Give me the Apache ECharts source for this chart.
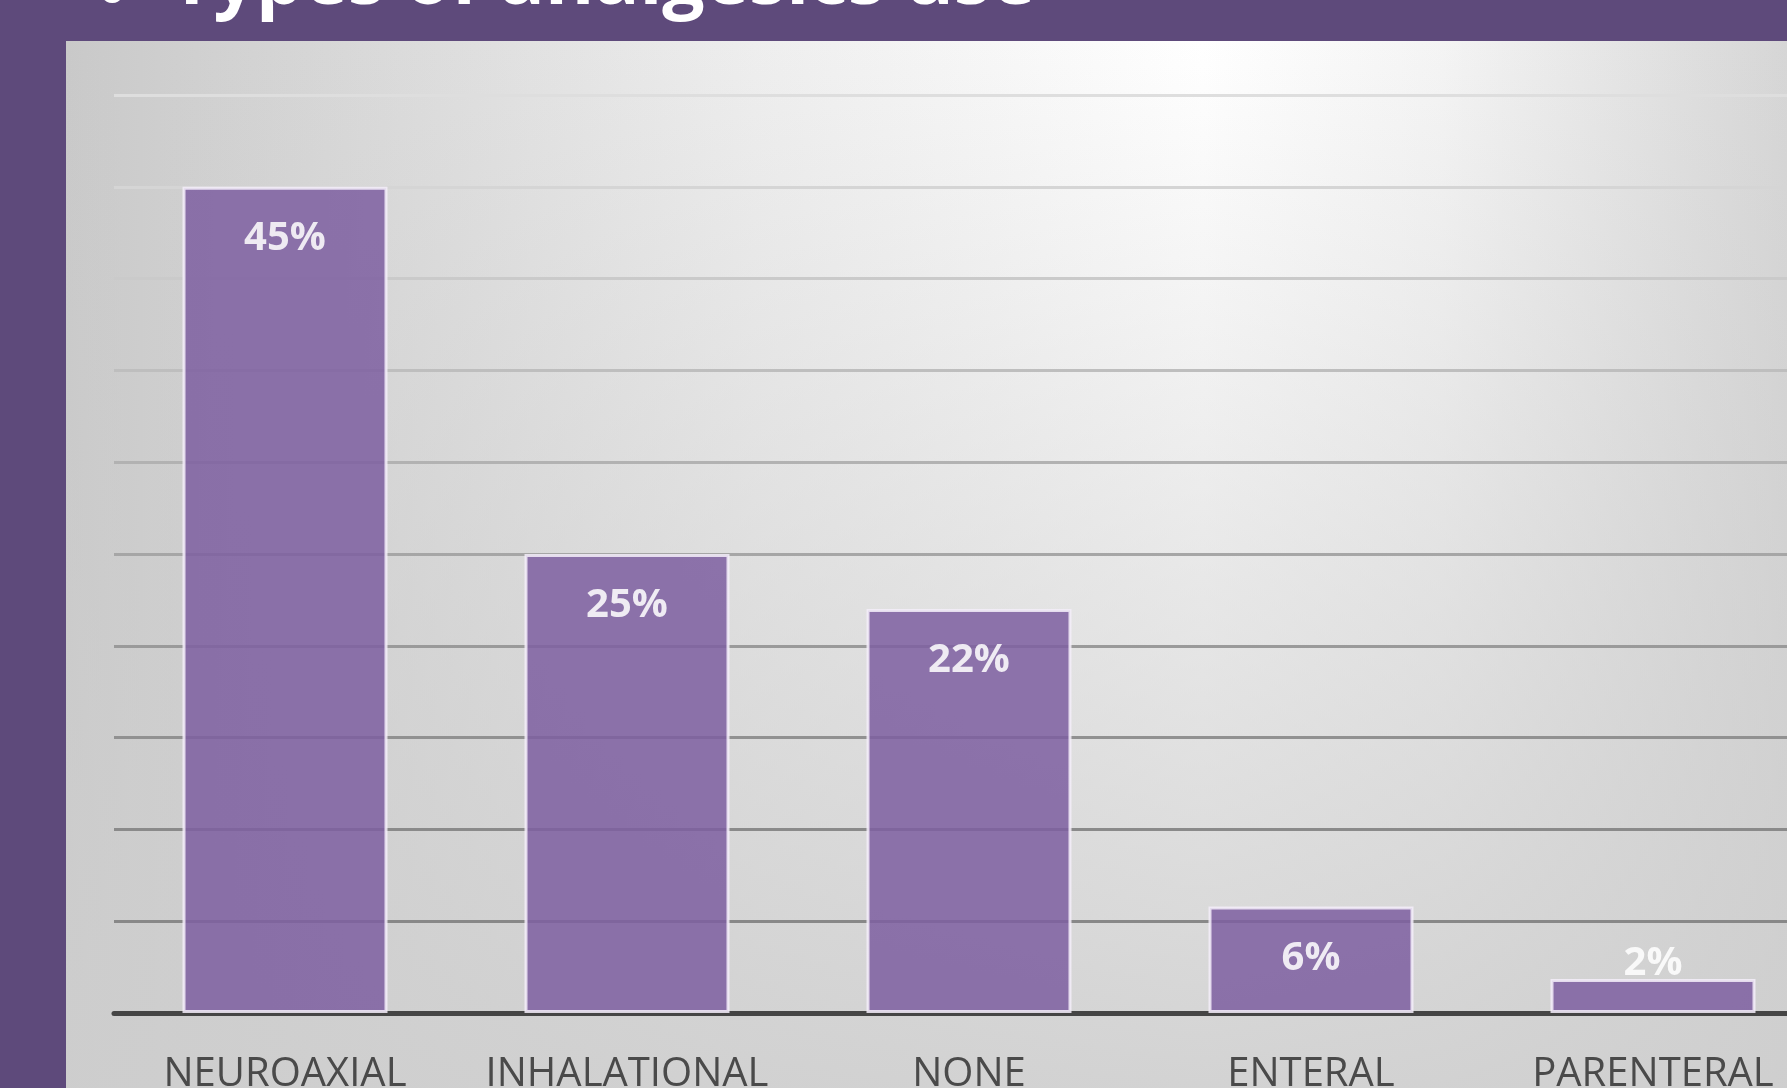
<!DOCTYPE html>
<html>
<head>
<meta charset="utf-8">
<script src="https://cdn.jsdelivr.net/npm/echarts@6/dist/echarts.min.js"></script>
<style>
  html, body { margin: 0; padding: 0; width: 1787px; height: 1088px; overflow: hidden; background: #5e4a7b; }
  #panel {
    position: absolute; left: 66px; top: 41px; right: 0; bottom: 0;
    background:
      linear-gradient(to bottom, rgba(205,205,205,0) 0%, rgba(205,205,205,0.45) 50%, rgba(206,206,206,0.9) 100%),
      linear-gradient(to right, #c9c9c9 0%, #eeeeee 40%, #ffffff 66%, #f4f4f4 80%, #d6d6d6 100%);
  }
  #chart { position: absolute; left: 0; top: 0; width: 1787px; height: 1088px; }
</style>
</head>
<body>
<div id="panel"></div>
<div id="chart"></div>
<script>
var categories = ['NEUROAXIAL', 'INHALATIONAL', 'NONE', 'ENTERAL', 'PARENTERAL'];
var values = [45, 25, 22, 5.8, 1.85];
var valueLabels = ['45%', '25%', '22%', '6%', '2%'];
var gridColors = ['#555555', '#888888', '#8a8a8a', '#919191', '#9a9a9a', '#a6a6a6',
                  '#b2b2b2', '#bebebe', '#cacaca', '#d5d5d5', '#dedede'];

var seriesdata = [];
for (var i = 0; i < values.length; i++) {
    var item = { value: values[i] };
    if (values[i] < 4) {
        // short bar: label sits on top of it
        item.label = { position: 'top', distance: -5 };
    }
    seriesdata.push(item);
}

var myChart = echarts.init(document.getElementById('chart'));
var option = {
    backgroundColor: 'transparent',
    animation: false,
    graphic: [
        {
            type: 'text', left: 98, top: -41,
            style: { text: '•', fill: '#ffffff', font: 'bold 76px "Open Sans"' }
        },
        {
            type: 'text', left: 170, top: -55,
            style: { text: 'Types of analgesics use', fill: '#ffffff', font: 'bold 75px "Open Sans"' }
        }
    ],
    grid: {
        left: 114,
        top: 95,
        width: 1710,
        height: 918,
        outerBoundsMode: 'none'
    },
    xAxis: {
        type: 'category',
        data: categories,
        axisLine: { lineStyle: { color: '#454545', width: 5 } },
        axisTick: { show: false },
        axisLabel: {
            color: '#4a4a4a',
            fontSize: 40,
            fontFamily: 'Open Sans',
            margin: 42,
            interval: 0
        }
    },
    yAxis: {
        type: 'value',
        min: 0,
        max: 50,
        interval: 5,
        axisLine: { show: false },
        axisTick: { show: false },
        axisLabel: { show: false },
        splitLine: { lineStyle: { color: gridColors, width: 3 } }
    },
    series: [
        {
            name: 'Types of analgesics use',
            type: 'bar',
            barWidth: 205,
            data: seriesdata,
            itemStyle: {
                color: '#7e5fa1',
                opacity: 0.86,
                borderColor: '#f3eef9',
                borderWidth: 3
            },
            label: {
                show: true,
                position: 'insideTop',
                distance: 32,
                color: '#ffffff',
                fontSize: 40,
                fontWeight: 'bold',
                fontFamily: 'Open Sans',
                formatter: function (p) {
                    return valueLabels[p.dataIndex];
                }
            }
        }
    ]
};
myChart.setOption(option);
</script>
</body>
</html>
